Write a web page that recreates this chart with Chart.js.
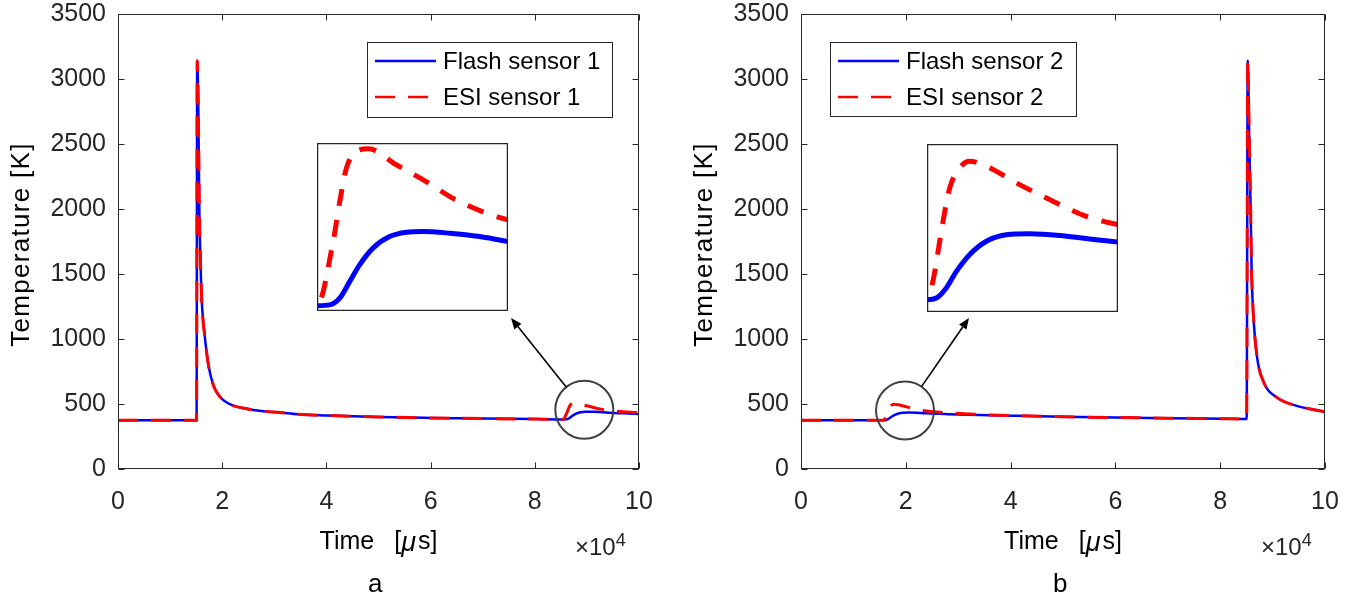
<!DOCTYPE html>
<html><head><meta charset="utf-8">
<script src="https://cdn.jsdelivr.net/npm/chart.js@4.4.1/dist/chart.umd.min.js"></script>
<style>
html,body{margin:0;padding:0;background:#fff;width:1356px;height:601px;overflow:hidden;position:relative;}
canvas{position:absolute;}
.lbl{position:absolute;font-family:'Liberation Sans',Arial,Helvetica,sans-serif;color:#262626;white-space:nowrap;line-height:28px;}
</style></head><body>
<canvas id="mainA" width="678" height="601" style="left:0;top:0"></canvas>
<canvas id="mainB" width="673" height="601" style="left:683px;top:0"></canvas>
<canvas id="insetA" width="191" height="168" style="left:317px;top:143px"></canvas>
<canvas id="insetB" width="191" height="168" style="left:927px;top:144px"></canvas>
<div class="lbl" style="left:575px;top:533px;font-size:24px;">×10<span style="font-size:18px;position:relative;top:-9px;">4</span></div>
<div class="lbl" style="left:1261px;top:533px;font-size:24px;">×10<span style="font-size:18px;position:relative;top:-9px;">4</span></div>
<div class="lbl" style="left:368px;top:569px;font-size:26px;color:#000;">a</div>
<div class="lbl" style="left:1053px;top:569px;font-size:26px;color:#000;">b</div>
<script>
// ---------- DATA ----------
const xTickLabels = ['0', '2', '4', '6', '8', '10'];
const yTickLabels = ['0', '500', '1000', '1500', '2000', '2500', '3000', '3500'];

// Panel a (sensor 1): common part before the bump
const s1CommonTime = [0, 15080, 15200, 15410, 15600, 15870, 16070, 16700, 17400, 18300, 19200, 20200, 22000, 24700, 27500, 31100, 34500, 40000, 50000, 60000, 70000, 80000];
const s1CommonTemp = [375, 375, 3140, 2796, 2028, 1543, 1301, 1004, 790, 645, 575, 530, 490, 463, 446, 434, 421, 412, 400, 393, 388, 384];

const flash1Time = s1CommonTime.concat([85445, 85994, 86471, 86939, 87407, 88037, 88820, 89612, 90395, 91655, 93068, 94400, 97000, 100000]);
const flash1Temp = s1CommonTemp.concat([381.3, 381.9, 387.3, 400.6, 414, 427.5, 436.8, 440.3, 440.9, 439.5, 436.8, 432.9, 428, 424]);
const esi1Time = s1CommonTime.concat([85400, 86156, 86471, 86786, 87254, 87830, 89135, 90548, 91808, 93221, 94400, 97000, 100000]);
const esi1Temp = s1CommonTemp.concat([381.7, 432.4, 464.8, 491.8, 505.3, 507.4, 494.5, 481, 467.5, 456.7, 450.3, 441, 433]);

// Panel b (sensor 2)
const flash2Time = [0, 15000, 15800, 16241, 16709, 17186, 17807, 18599, 19535, 20642, 22055, 23306, 24800, 28000, 32000, 40000, 50000, 60000, 70000, 80000, 85050, 85250, 85550, 85800, 86000, 86300, 87000, 88300, 90800, 94600, 100000];
const flash2Temp = [375, 375, 375, 376.5, 385.5, 400.3, 415.2, 427.2, 433, 433.9, 432.4, 429.6, 426.6, 422, 417, 410, 402, 396, 391, 387, 385, 3140, 2530, 2020, 1510, 1205, 870, 668, 551, 486, 440];
const esi2Time = [0, 15000, 15800, 16079, 16322, 16556, 16871, 17339, 17807, 18599, 20165, 21740, 23306, 24800, 28000, 32000, 36000, 40000, 50000, 60000, 70000, 80000, 85050, 85250, 85550, 85800, 86000, 86300, 87000, 88300, 90800, 94600, 100000];
const esi2Temp = [375, 375, 376.5, 391.5, 418.2, 445, 474.7, 492.6, 498.6, 494, 477.7, 462.9, 449.4, 442, 432, 423, 416, 411, 402, 396, 391, 387, 385, 3140, 2530, 2020, 1510, 1205, 870, 668, 551, 486, 440];

// Inset windows (zoomed views of the circled regions)
const insetAX = [85400, 94400], insetAY = [377, 512];
const insetBX = [15800, 24800], insetBY = [364, 514];
const circleA = [89500, 456], circleB = [19850, 450];

// ---------- HELPERS ----------
const FONT = "'Liberation Sans', Arial, Helvetica, sans-serif";
const AX = '#262626';
const toXY = (t, v) => t.map((x, i) => ({x: x, y: v[i]}));

const framePlugin = {
  id: 'frame',
  beforeDraw(chart, args, o) {
    if (o.bg) { const c = chart.ctx; c.save(); c.fillStyle = '#fff'; c.fillRect(0, 0, chart.width, chart.height); c.restore(); }
  },
  afterDatasetsDraw(chart, args, o) {
    const {ctx, chartArea: a} = chart;
    ctx.save();
    ctx.strokeStyle = AX; ctx.lineWidth = o.lw || 1;
    const L = Math.round(a.left) + 0.5, R = Math.round(a.right) - 0.5, T = Math.round(a.top) + 0.5, B = Math.round(a.bottom) - 0.5;
    ctx.strokeRect(L, T, R - L, B - T);
    const tl = o.tick || 0;
    if (tl) {
      ctx.beginPath();
      chart.scales.x.ticks.forEach(t => {
        const p = Math.round(chart.scales.x.getPixelForValue(t.value)) + 0.5;
        ctx.moveTo(p, B); ctx.lineTo(p, B - tl); ctx.moveTo(p, T); ctx.lineTo(p, T + tl);
      });
      chart.scales.y.ticks.forEach(t => {
        const p = Math.round(chart.scales.y.getPixelForValue(t.value)) + 0.5;
        ctx.moveTo(L, p); ctx.lineTo(L + tl, p); ctx.moveTo(R, p); ctx.lineTo(R - tl, p);
      });
      ctx.stroke();
    }
    ctx.restore();
  }
};

const decoPlugin = {
  id: 'deco',
  afterDraw(chart, args, o) {
    const {ctx, chartArea: a} = chart;
    const sx = chart.scales.x, sy = chart.scales.y;
    ctx.save();
    // x axis title: Time [μs] with italic μ
    ctx.fillStyle = '#000'; ctx.textBaseline = 'middle'; ctx.textAlign = 'left';
    const fN = '25px ' + FONT, fI = 'italic 27px ' + FONT, gap = 20;
    ctx.font = fN; const w1 = ctx.measureText('Time').width, w2 = ctx.measureText('[').width, w4 = ctx.measureText('s]').width;
    ctx.font = fI; const w3 = ctx.measureText('μ').width + 2;
    let x = (a.left + a.right) / 2 - (w1 + gap + w2 + w3 + w4) / 2;
    const ty = 542;
    ctx.font = fN; ctx.fillText('Time', x, ty); x += w1 + gap;
    ctx.fillText('[', x, ty); x += w2;
    ctx.font = fI; ctx.fillText('μ', x, ty + 1); x += w3;
    ctx.font = fN; ctx.fillText('s]', x, ty);
    // y axis title
    ctx.save();
    ctx.translate(22, (a.top + a.bottom) / 2 + 3); ctx.rotate(-Math.PI / 2);
    ctx.textAlign = 'center'; ctx.font = '26px ' + FONT;
    try { ctx.letterSpacing = '1.3px'; } catch (e) {}
    ctx.fillText('Temperature [K]', 0, 0);
    ctx.restore();
    // circle
    const cx = sx.getPixelForValue(o.circle[0]), cy = sy.getPixelForValue(o.circle[1]), r = o.r;
    ctx.strokeStyle = '#404040'; ctx.lineWidth = 2;
    ctx.beginPath(); ctx.arc(cx, cy, r, 0, Math.PI * 2); ctx.stroke();
    // arrow
    const dx = o.tip[0] - cx, dy = o.tip[1] - cy, len = Math.hypot(dx, dy);
    const ux = dx / len, uy = dy / len;
    const sxp = cx + ux * r, syp = cy + uy * r, hl = 11, hw = 4.5;
    const bx = o.tip[0] - ux * hl, by = o.tip[1] - uy * hl;
    ctx.strokeStyle = '#000'; ctx.fillStyle = '#000'; ctx.lineWidth = 1.6;
    ctx.beginPath(); ctx.moveTo(sxp, syp); ctx.lineTo(bx, by); ctx.stroke();
    ctx.beginPath(); ctx.moveTo(o.tip[0], o.tip[1]);
    ctx.lineTo(bx - uy * hw, by + ux * hw); ctx.lineTo(bx + uy * hw, by - ux * hw); ctx.closePath(); ctx.fill();
    // legend
    const lg = o.legend;
    ctx.fillStyle = '#fff'; ctx.fillRect(lg.left, lg.top, lg.w, lg.h);
    ctx.strokeStyle = AX; ctx.lineWidth = 1;
    ctx.strokeRect(lg.left + 0.5, lg.top + 0.5, lg.w, lg.h);
    chart.data.datasets.forEach((ds, i) => {
      const yy = lg.top + 19 + i * 36;
      ctx.strokeStyle = ds.borderColor; ctx.lineWidth = 2.6;
      ctx.setLineDash(ds.borderDash || []);
      ctx.beginPath(); ctx.moveTo(lg.left + 8, yy); ctx.lineTo(lg.left + 69, yy); ctx.stroke();
      ctx.setLineDash([]);
      ctx.fillStyle = '#000'; ctx.font = '24px ' + FONT; ctx.textBaseline = 'middle'; ctx.textAlign = 'left';
      ctx.fillText(ds.label, lg.left + 76, yy + 1);
    });
    ctx.restore();
  }
};

function makeMain(id, c) {
  return new Chart(document.getElementById(id), {
    type: 'line',
    data: {datasets: [
      {label: c.flashLabel, data: toXY(c.flashT, c.flashV), borderColor: '#0000ff', borderWidth: 2.5, pointRadius: 0, cubicInterpolationMode: 'monotone', order: 2, fill: false},
      {label: c.esiLabel, data: toXY(c.esiT, c.esiV), borderColor: '#ff0000', borderWidth: 3, borderDash: [20, 13], pointRadius: 0, cubicInterpolationMode: 'monotone', order: 1, fill: false}
    ]},
    options: {
      responsive: false, animation: false, events: [],
      layout: {padding: {left: 0, top: 14, right: c.padRight, bottom: 0}},
      plugins: {legend: {display: false}, tooltip: {enabled: false},
        frame: {tick: 6}, deco: {circle: c.circle, r: 29, tip: c.tip, legend: c.legend}},
      scales: {
        x: {type: 'linear', min: 0, max: 100000,
          ticks: {stepSize: 20000, autoSkip: false, maxRotation: 0, padding: 18, color: AX,
            font: {size: 25, family: FONT}, callback: (v, i) => xTickLabels[i]},
          grid: {display: false, drawTicks: false}, border: {display: false},
          title: {display: false, text: 'Time [μs]'},
          afterFit: s => { s.height = 132; s.paddingLeft = 0; s.paddingRight = 0; }},
        y: {type: 'linear', min: 0, max: 3500,
          ticks: {stepSize: 500, autoSkip: false, padding: 12, color: AX,
            font: {size: 25, family: FONT}, callback: (v, i) => yTickLabels[i]},
          grid: {display: false, drawTicks: false}, border: {display: false},
          title: {display: false, text: 'Temperature [K]'},
          afterFit: s => { s.width = 118; s.paddingTop = 0; s.paddingBottom = 0; }}
      }
    },
    plugins: [framePlugin, decoPlugin]
  });
}

function makeInset(id, c) {
  return new Chart(document.getElementById(id), {
    type: 'line',
    data: {datasets: [
      {data: toXY(c.flashT, c.flashV), borderColor: '#0000ff', borderWidth: 5, pointRadius: 0, cubicInterpolationMode: 'monotone', order: 2, fill: false},
      {data: toXY(c.esiT, c.esiV), borderColor: '#ff0000', borderWidth: 5, borderDash: [17, 14], pointRadius: 0, cubicInterpolationMode: 'monotone', order: 1, fill: false}
    ]},
    options: {
      responsive: false, animation: false, events: [],
      layout: {padding: 0},
      plugins: {legend: {display: false}, tooltip: {enabled: false}, frame: {tick: 0, bg: true, lw: 1.5}},
      scales: {
        x: {type: 'linear', display: false, min: c.xr[0], max: c.xr[1]},
        y: {type: 'linear', display: false, min: c.yr[0], max: c.yr[1]}
      }
    },
    plugins: [framePlugin]
  });
}

makeMain('mainA', {flashLabel: 'Flash sensor 1', esiLabel: 'ESI sensor 1', flashT: flash1Time, flashV: flash1Temp, esiT: esi1Time, esiV: esi1Temp,
  padRight: 39, circle: circleA, tip: [511, 318], legend: {left: 367, top: 42, w: 245, h: 75}});
makeMain('mainB', {flashLabel: 'Flash sensor 2', esiLabel: 'ESI sensor 2', flashT: flash2Time, flashV: flash2Temp, esiT: esi2Time, esiV: esi2Temp,
  padRight: 31, circle: circleB, tip: [286, 318], legend: {left: 147, top: 42, w: 246, h: 74}});
makeInset('insetA', {flashT: flash1Time, flashV: flash1Temp, esiT: esi1Time, esiV: esi1Temp, xr: insetAX, yr: insetAY});
makeInset('insetB', {flashT: flash2Time, flashV: flash2Temp, esiT: esi2Time, esiV: esi2Temp, xr: insetBX, yr: insetBY});
</script>
</body></html>
